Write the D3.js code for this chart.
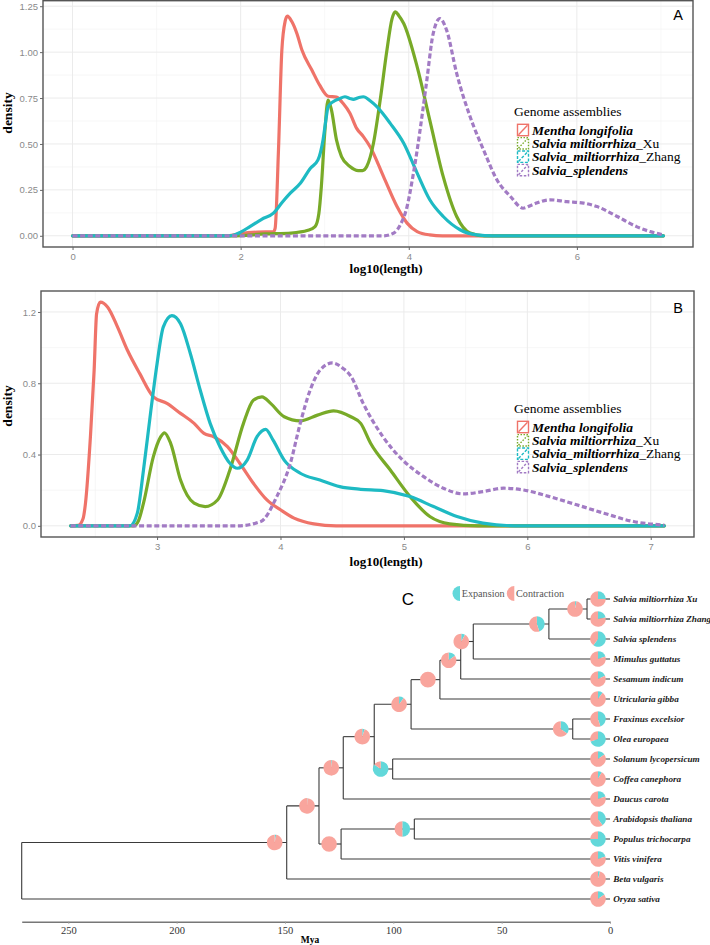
<!DOCTYPE html>
<html><head><meta charset="utf-8">
<script src="https://cdn.jsdelivr.net/npm/d3@7"></script>
<style>body{margin:0;background:#fff}svg{display:block}</style>
</head><body>
<svg id="chart" width="710" height="945"></svg>
<script>
// ---------------- DATA ----------------
const seriesNames = ["Mentha longifolia","Salvia miltiorrhiza_Xu","Salvia_miltiorrhiza_Zhang","Salvia_splendens"];
const seriesColors = ["#EF7369","#78AA28","#1EBAC3","#A27BC4"];
const legendTitle = "Genome assemblies";

// Panel A: density of log10(length)
const aMentha = [[0,0],[1.85,0],[2.0,0.012],[2.2,0.02],[2.39,0.022],[2.41,0.04],[2.45,0.467],[2.49,1.01],[2.53,1.17],[2.555,1.196],[2.61,1.165],[2.67,1.10],[2.73,1.01],[2.85,0.90],[2.94,0.82],[3.04,0.76],[3.14,0.755],[3.22,0.72],[3.30,0.667],[3.38,0.585],[3.46,0.54],[3.54,0.485],[3.70,0.322],[3.86,0.159],[3.98,0.069],[4.10,0.023],[4.25,0.005],[4.4,0],[7.03,0]];
const aXu = [[0,0],[1.9,0],[2.3,0.01],[2.6,0.015],[2.8,0.03],[2.885,0.05],[2.93,0.12],[2.96,0.268],[3.0,0.558],[3.04,0.739],[3.08,0.685],[3.14,0.522],[3.20,0.431],[3.30,0.377],[3.40,0.355],[3.45,0.355],[3.50,0.377],[3.58,0.504],[3.66,0.739],[3.74,1.01],[3.80,1.18],[3.84,1.219],[3.88,1.20],[3.94,1.156],[4.10,0.92],[4.25,0.63],[4.41,0.322],[4.57,0.105],[4.73,0.015],[4.9,0],[7.03,0]];
const aZhang = [[0,0],[1.85,0],[1.91,0.003],[2.0,0.02],[2.11,0.05],[2.25,0.09],[2.39,0.123],[2.49,0.18],[2.59,0.232],[2.71,0.286],[2.83,0.368],[2.92,0.413],[2.98,0.522],[3.02,0.65],[3.04,0.703],[3.10,0.73],[3.17,0.745],[3.24,0.757],[3.30,0.748],[3.34,0.743],[3.40,0.752],[3.46,0.757],[3.54,0.735],[3.62,0.703],[3.78,0.612],[3.94,0.504],[4.10,0.341],[4.25,0.196],[4.41,0.105],[4.61,0.033],[4.81,0.005],[5.0,0],[7.03,0]];
const aSplendens = [[0,0],[3.7,0],[3.82,0.015],[3.90,0.06],[3.98,0.159],[4.04,0.3],[4.10,0.467],[4.16,0.66],[4.21,0.83],[4.29,1.10],[4.37,1.183],[4.45,1.12],[4.57,0.884],[4.73,0.648],[4.89,0.467],[5.05,0.304],[5.21,0.214],[5.36,0.15],[5.45,0.165],[5.52,0.178],[5.68,0.196],[5.88,0.186],[6.08,0.178],[6.24,0.159],[6.48,0.105],[6.71,0.05],[6.87,0.023],[7.03,0.005]];

// Panel B
const bMentha = [[2.30,0],[2.36,0.002],[2.40,0.04],[2.42,0.127],[2.46,0.5],[2.49,0.873],[2.51,1.19],[2.54,1.255],[2.60,1.227],[2.68,1.115],[2.76,0.985],[2.86,0.854],[2.97,0.724],[3.08,0.687],[3.19,0.631],[3.30,0.575],[3.38,0.519],[3.46,0.5],[3.57,0.444],[3.67,0.351],[3.78,0.239],[3.89,0.145],[4.0,0.09],[4.11,0.043],[4.27,0.011],[4.45,0],[7.11,0]];
const bXu = [[2.30,0],[2.81,0],[2.85,0.03],[2.89,0.127],[2.97,0.388],[3.03,0.5],[3.06,0.522],[3.11,0.463],[3.19,0.257],[3.30,0.127],[3.39,0.108],[3.49,0.145],[3.59,0.313],[3.70,0.575],[3.78,0.705],[3.85,0.724],[3.92,0.687],[4.03,0.612],[4.16,0.589],[4.30,0.621],[4.43,0.645],[4.57,0.612],[4.65,0.575],[4.73,0.463],[4.89,0.313],[5.05,0.164],[5.21,0.052],[5.37,0.011],[5.6,0],[7.11,0]];
const bZhang = [[2.30,0],[2.78,0],[2.84,0.071],[2.89,0.313],[2.95,0.649],[3.0,0.91],[3.05,1.115],[3.12,1.18],[3.19,1.134],[3.27,0.966],[3.35,0.761],[3.43,0.575],[3.51,0.444],[3.59,0.351],[3.65,0.323],[3.73,0.369],[3.81,0.5],[3.88,0.541],[3.94,0.481],[4.03,0.369],[4.16,0.295],[4.32,0.257],[4.48,0.22],[4.65,0.205],[4.83,0.198],[5.05,0.164],[5.24,0.108],[5.43,0.052],[5.64,0.015],[5.9,0],[7.11,0]];
const bSplendens = [[2.30,0],[3.65,0],[3.84,0.024],[3.97,0.164],[4.08,0.351],[4.16,0.575],[4.24,0.761],[4.32,0.873],[4.42,0.914],[4.51,0.882],[4.57,0.84],[4.67,0.687],[4.83,0.5],[4.99,0.369],[5.16,0.276],[5.32,0.211],[5.48,0.179],[5.64,0.192],[5.81,0.211],[5.97,0.201],[6.18,0.164],[6.40,0.118],[6.62,0.071],[6.86,0.024],[7.11,0.004]];

const aXTicks = [0,2,4,6], aXMinor = [1,3,5,7];
const aYTicks = [0,0.25,0.5,0.75,1.0,1.25], aYMinor = [0.125,0.375,0.625,0.875,1.125];
const aYLabels = ["0.00","0.25","0.50","0.75","1.00","1.25"];
const bXTicks = [3,4,5,6,7], bXMinor = [2.5,3.5,4.5,5.5,6.5];
const bYTicks = [0,0.4,0.8,1.2], bYMinor = [0.2,0.6,1.0];
const bYLabels = ["0.0","0.4","0.8","1.2"];

// Panel C: phylogeny (preorder), ages in Mya, expansion fraction of pie
const nodeIds = ["root","n149","n134","nA","nB","nC","nD","nE","nF","nG","nH","Salvia miltiorrhiza Xu","Salvia miltiorrhiza Zhang","Salvia splendens","Mimulus guttatus","Sesamum indicum","Utricularia gibba","nFO","Fraxinus excelsior","Olea europaea","nSC","Solanum lycopersicum","Coffea canephora","Daucus carota","nRos","nAP","Arabidopsis thaliana","Populus trichocarpa","Vitis vinifera","Beta vulgaris","Oryza sativa"];
const nodeParents = [null,"root","n149","n134","nA","nB","nC","nD","nE","nF","nG","nH","nH","nG","nF","nE","nD","nC","nFO","nFO","nB","nSC","nSC","nA","n134","nRos","nAP","nAP","nRos","n149","root"];
const nodeAges = [271.5,149.2,134.3,123.1,108.8,91.8,78.5,68.9,63.1,28.2,10.6,0,0,0,0,0,0,17.2,0,0,100.3,0,0,0,124.1,90.3,0,0,0,0,0];
const nodeExpansion = [null,0.03,0.01,0.02,0.05,0.1,0.0,0.15,0.08,0.45,0.03,0.25,0.22,0.6,0.2,0.18,0.1,0.35,0.45,0.7,0.85,0.15,0.08,0.2,0.0,0.5,0.4,0.75,0.2,0.04,0.15];
const ageTicks = [250,200,150,100,50,0];
const pieLegend = ["Expansion","Contraction"];
const pieColors = ["#62D8DA","#F9A59D"];

// ---------------- DRAW ----------------
const svg = d3.select("#chart");
const serif = '"Liberation Serif","Times New Roman",serif';
const sans = '"Liberation Sans",Arial,sans-serif';

function densityPanel(o) {
  const g = svg.append("g");
  const x = d3.scaleLinear().domain(o.xDom).range([o.left, o.right]);
  const y = d3.scaleLinear().domain(o.yDom).range([o.bottom, o.top]);
  g.selectAll(".vmin").data(o.xMinor).join("line")
    .attr("x1", d=>x(d)).attr("x2", d=>x(d)).attr("y1", o.top).attr("y2", o.bottom)
    .attr("stroke", "#F4F4F4").attr("stroke-width", 0.7);
  g.selectAll(".hmin").data(o.yMinor).join("line")
    .attr("y1", d=>y(d)).attr("y2", d=>y(d)).attr("x1", o.left).attr("x2", o.right)
    .attr("stroke", "#F4F4F4").attr("stroke-width", 0.7);
  g.selectAll(".vmaj").data(o.xTicks).join("line")
    .attr("x1", d=>x(d)).attr("x2", d=>x(d)).attr("y1", o.top).attr("y2", o.bottom)
    .attr("stroke", "#EBEBEB").attr("stroke-width", 1);
  g.selectAll(".hmaj").data(o.yTicks).join("line")
    .attr("y1", d=>y(d)).attr("y2", d=>y(d)).attr("x1", o.left).attr("x2", o.right)
    .attr("stroke", "#EBEBEB").attr("stroke-width", 1);
  const line = d3.line().x(d=>x(d[0])).y(d=>y(d[1])).curve(d3.curveMonotoneX);
  o.series.forEach((s,i) => {
    g.append("path").datum(s).attr("d", line).attr("fill","none")
      .attr("stroke", seriesColors[i]).attr("stroke-width", 3.2)
      .attr("stroke-linejoin","round")
      .attr("stroke-dasharray", i===3 ? "5,2.6" : null)
      .attr("stroke-linecap", i===3 ? "butt" : "round");
  });
  g.append("rect").attr("x", o.left).attr("y", o.top).attr("width", o.right-o.left).attr("height", o.bottom-o.top)
    .attr("fill","none").attr("stroke","#555").attr("stroke-width",1.4);
  const xa = g.append("g").attr("transform",`translate(0,${o.bottom})`)
    .call(d3.axisBottom(x).tickValues(o.xTicks).tickSize(3).tickSizeOuter(0).tickPadding(3).tickFormat(d3.format("d")));
  const ya = g.append("g").attr("transform",`translate(${o.left},0)`)
    .call(d3.axisLeft(y).tickValues(o.yTicks).tickSize(3).tickSizeOuter(0).tickPadding(2).tickFormat((d,i)=>o.yLabels[i]));
  [xa,ya].forEach(a => {
    a.select(".domain").remove();
    a.selectAll("line").attr("stroke","#666");
    a.selectAll("text").attr("fill","#8a8a8a").style("font-family", sans).style("font-size","9.5px");
  });
  g.append("text").attr("x", 386).attr("y", o.xLabelY).attr("text-anchor","middle")
    .style("font-family", serif).style("font-weight","bold").style("font-size","13px").text("log10(length)");
  g.append("text").attr("transform",`translate(12,${o.yLabelY}) rotate(-90)`).attr("text-anchor","middle")
    .style("font-family", serif).style("font-weight","bold").style("font-size","13.5px").text("density");
  g.append("text").attr("x", 678).attr("y", o.letterY).attr("text-anchor","middle")
    .style("font-family", sans).style("font-size","14.5px").text(o.letter);
  const lg = g.append("g").attr("transform",`translate(514,${o.legendY})`);
  lg.append("text").attr("x",0).attr("y",0).style("font-family",serif).style("font-size","13.5px").text(legendTitle);
  const dashes = [null,"1.5,1.5","3,1.6","2.5,1.6"];
  seriesNames.forEach((nm,i) => {
    const cy = 14 + i*13.35;
    const r = lg.append("g");
    r.append("rect").attr("x",3.5).attr("y",cy-5.7).attr("width",11).attr("height",11.4)
      .attr("fill","#fff").attr("stroke",seriesColors[i]).attr("stroke-width",1.4).attr("stroke-dasharray",dashes[i]);
    r.append("line").attr("x1",4.5).attr("y1",cy+4.7).attr("x2",13.5).attr("y2",cy-4.7)
      .attr("stroke",seriesColors[i]).attr("stroke-width",1.4).attr("stroke-dasharray",dashes[i]);
    const t = r.append("text").attr("x",18).attr("y",cy+4.5).style("font-family",serif).style("font-size","13.5px");
    let bi = nm, rest = "";
    if (nm.endsWith("_Xu")) { bi = "Salvia miltiorrhiza"; rest = "_Xu"; }
    if (nm.endsWith("_Zhang")) { bi = "Salvia_miltiorrhiza"; rest = "_Zhang"; }
    t.append("tspan").style("font-weight","bold").style("font-style","italic").text(bi);
    if (rest) t.append("tspan").text(rest);
  });
}

densityPanel({left:43, right:693, top:0.7, bottom:247, xDom:[-0.3515,7.3815], yDom:[-0.061,1.28],
  xTicks:aXTicks, xMinor:aXMinor, yTicks:aYTicks, yMinor:aYMinor, yLabels:aYLabels,
  series:[aMentha,aXu,aZhang,aSplendens], xLabelY:273, yLabelY:113, letter:"A", letterY:20, legendY:116});
densityPanel({left:41, right:694, top:291, bottom:537, xDom:[2.0595,7.3505], yDom:[-0.06275,1.31775],
  xTicks:bXTicks, xMinor:bXMinor, yTicks:bYTicks, yMinor:bYMinor, yLabels:bYLabels,
  series:[bMentha,bXu,bZhang,bSplendens], xLabelY:566, yLabelY:406, letter:"B", letterY:313, legendY:413});

// ---------------- Panel C: tree ----------------
const rows = nodeIds.map((id,i)=>({id, parent:nodeParents[i], age:nodeAges[i], exp:nodeExpansion[i]}));
const root = d3.stratify().id(d=>d.id).parentId(d=>d.parent)(rows);
const leaves = root.leaves();
const ageX = d3.scaleLinear().domain([271.5,0]).range([21.7,610]);
const tipY = d3.scaleLinear().domain([0, leaves.length-1]).range([599,899]);
leaves.forEach((l,i)=> l.yPos = tipY(i));
root.eachAfter(n => { if (n.children) n.yPos = (n.children[0].yPos + n.children[n.children.length-1].yPos)/2; n.xPos = ageX(n.data.age); });

const tg = svg.append("g");
const edgeColor = "#3a3a3a";
root.descendants().forEach(n => {
  if (n.parent) {
    tg.append("line").attr("x1", n.parent.xPos).attr("x2", n.xPos).attr("y1", n.yPos).attr("y2", n.yPos)
      .attr("stroke", edgeColor).attr("stroke-width", 1.1);
  }
  if (n.children) {
    tg.append("line").attr("x1", n.xPos).attr("x2", n.xPos)
      .attr("y1", n.children[0].yPos).attr("y2", n.children[n.children.length-1].yPos)
      .attr("stroke", edgeColor).attr("stroke-width", 1.1);
  }
});
const pie = d3.pie().sort(null).value(d=>d);
const arc = d3.arc().innerRadius(0).outerRadius(7.8);
root.descendants().filter(n=>n.parent).forEach(n => {
  const pg = tg.append("g").attr("transform", `translate(${n.xPos-12},${n.yPos})`);
  pg.selectAll("path").data(pie([n.data.exp, 1-n.data.exp])).join("path")
    .attr("d", arc).attr("fill", (d,i)=>pieColors[i]);
});
tg.selectAll(".tip").data(leaves).join("text")
  .attr("x", d=>d.xPos+3.2).attr("y", d=>d.yPos+3.3)
  .style("font-family", serif).style("font-weight","bold").style("font-style","italic")
  .style("font-size","9.2px").attr("fill","#1a1a1a").text(d=>d.data.id);

const ax = svg.append("g").attr("transform","translate(0,921.7)")
  .call(d3.axisBottom(ageX).tickValues(ageTicks).tickSize(2).tickPadding(3).tickSizeOuter(0));
ax.select(".domain").attr("stroke","#777").attr("stroke-width",1.4);
ax.selectAll("line").attr("stroke","#999");
ax.selectAll("text").style("font-family",serif).style("font-size","10.5px").attr("fill","#333");
svg.append("text").attr("x",310).attr("y",942.5).attr("text-anchor","middle")
  .style("font-family",serif).style("font-weight","bold").style("font-size","9.5px").text("Mya");

const halfArc = d3.arc().innerRadius(0).outerRadius(7.5).startAngle(Math.PI).endAngle(2*Math.PI);
const legX = [460, 514.3];
pieLegend.forEach((t,i)=>{
  svg.append("path").attr("d", halfArc()).attr("transform",`translate(${legX[i]},593.5)`).attr("fill", pieColors[i]);
  svg.append("text").attr("x", legX[i]+1.7).attr("y", 597).style("font-family",serif).style("font-size","10.2px")
    .attr("fill","#555").text(t);
});
svg.append("text").attr("x",408).attr("y",604.5).attr("text-anchor","middle")
  .style("font-family",sans).style("font-size","17px").text("C");
</script>
</body></html>
